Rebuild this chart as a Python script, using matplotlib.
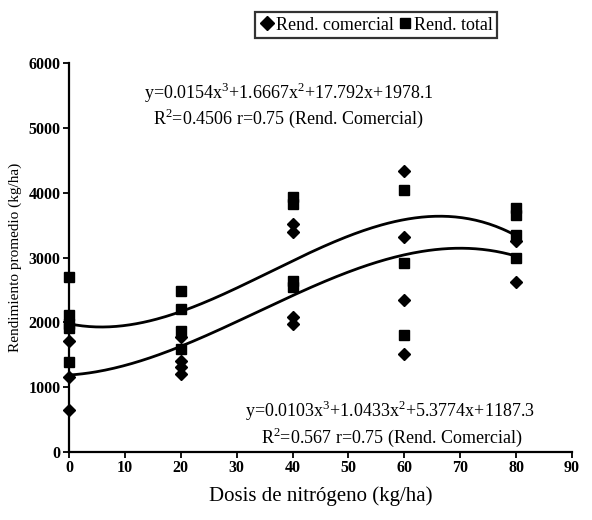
import numpy as np
import matplotlib
matplotlib.use("Agg")
import matplotlib.pyplot as plt
from matplotlib.lines import Line2D

plt.rcParams['font.family'] = ['Liberation Serif', 'DejaVu Serif']

# Data points (x = nitrogen dose, y = yield kg/ha)
x_total = [0, 0, 0, 0, 0, 20, 20, 20, 20, 40, 40, 40, 40, 60, 60, 60, 80, 80, 80, 80]
y_total = [2700, 2120, 1980, 1910, 1390, 2490, 2200, 1870, 1590, 3940, 3830, 2630, 2550,
           4040, 2910, 1800, 3760, 3650, 3340, 3000]
x_com = [0, 0, 0, 20, 20, 20, 20, 40, 40, 40, 40, 60, 60, 60, 60, 80, 80]
y_com = [1710, 1150, 650, 1780, 1410, 1310, 1210, 3520, 3400, 2080, 1980,
         4330, 3320, 2350, 1510, 3260, 2620]

# Fitted polynomial coefficients (highest power first)
coef_total = [-0.0154, 1.6667, -17.792, 1978.1]
coef_com = [-0.0103, 1.0433, 5.3774, 1187.3]

xticks = [0, 10, 20, 30, 40, 50, 60, 70, 80, 90]
yticks = [0, 1000, 2000, 3000, 4000, 5000, 6000]

eq_top = ["y=0.0154x$^{3}$+1.6667x$^{2}$+17.792x+1978.1",
          "R$^{2}$=0.4506 r=0.75 (Rend. Comercial)"]
eq_bot = ["y=0.0103x$^{3}$+1.0433x$^{2}$+5.3774x+1187.3",
          "R$^{2}$=0.567 r=0.75 (Rend. Comercial)"]

plt.rcParams['mathtext.fontset'] = 'custom'
plt.rcParams['mathtext.rm'] = 'Liberation Serif'

fig = plt.figure(figsize=(5.92, 5.20), dpi=100)
ax = fig.add_axes([69/592, 1-452/520, (572-69)/592, (452-63)/520])

xs = np.linspace(0, 80, 200)
ax.plot(xs, np.polyval(coef_total, xs), color='black', lw=2, zorder=2)
ax.plot(xs, np.polyval(coef_com, xs), color='black', lw=2, zorder=2)

ax.plot(x_total, y_total, 's', color='black', ms=6.5, ls='none', zorder=3, clip_on=False)
ax.plot(x_com, y_com, 'D', color='black', ms=6.5, ls='none', zorder=3, clip_on=False)

ax.set_xlim(0, 90)
ax.set_ylim(0, 6000)
ax.set_xticks(xticks)
ax.set_yticks(yticks)
ax.tick_params(axis='both', labelsize=11.5, width=1.3, length=4, direction='out', pad=2)
for lab in ax.get_xticklabels() + ax.get_yticklabels():
    lab.set_fontweight('bold')
for s in ['top', 'right']:
    ax.spines[s].set_visible(False)
for s in ['left', 'bottom']:
    ax.spines[s].set_linewidth(1.6)

ax.set_xlabel('Dosis de nitrógeno (kg/ha)', fontsize=15, labelpad=7)
ax.set_ylabel('Rendimiento promedio (kg/ha)', fontsize=11, labelpad=5)

ax.text(39.3, 5540, eq_top[0], ha='center', va='center', fontsize=13)
ax.text(39.3, 5150, eq_top[1], ha='center', va='center', fontsize=13)
ax.text(57.5, 640, eq_bot[0], ha='center', va='center', fontsize=13)
ax.text(57.8, 230, eq_bot[1], ha='center', va='center', fontsize=13)

handles = [Line2D([], [], marker='D', color='black', ls='none', ms=7.5),
           Line2D([], [], marker='s', color='black', ls='none', ms=7.5)]
leg = fig.legend(handles, ['Rend. comercial', 'Rend. total'], loc='center',
                 bbox_to_anchor=(376/592, 1-25/520), ncol=2, fontsize=13,
                 frameon=True, fancybox=False, handlelength=0.8,
                 handletextpad=0.1, columnspacing=0.2, borderpad=0.25,
                 borderaxespad=0)
leg.get_frame().set_edgecolor('black')
leg.get_frame().set_linewidth(1.6)

fig.savefig('out.png', dpi=100)
